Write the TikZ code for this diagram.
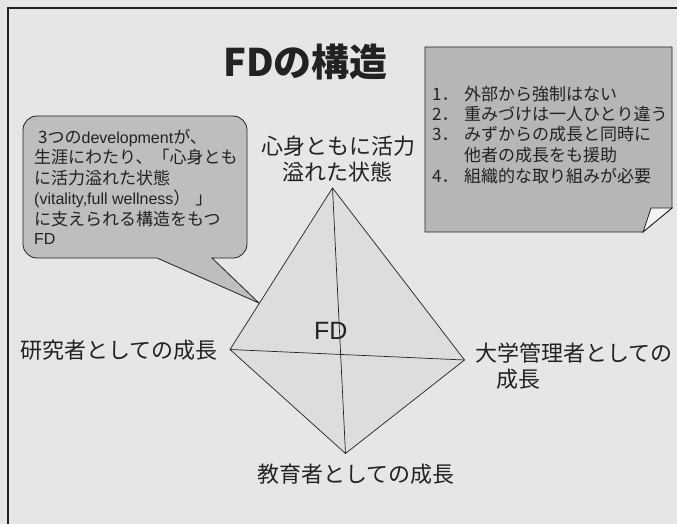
\documentclass[tikz,border=0pt]{standalone}
\usepackage{fontspec}
\setmainfont{Noto Sans CJK JP}
\newfontfamily\lat{Liberation Sans}
\definecolor{bgc}{RGB}{230,230,230}
\definecolor{ink}{RGB}{34,34,34}
\definecolor{callfill}{RGB}{190,190,192}
\definecolor{notefill}{RGB}{182,182,184}
\definecolor{tetfill}{RGB}{220,221,223}
\definecolor{flapfill}{RGB}{242,242,242}
\begin{document}
\begin{tikzpicture}[x=1pt,y=-1pt,
  txt/.style={inner sep=0pt, anchor=base west, text=ink},
  lab/.style={txt, font=\fontsize{22}{26}\selectfont},
  small/.style={txt, font=\fontsize{17}{20}\selectfont},
  shapeline/.style={draw=ink, line width=0.8pt},
  edge/.style={draw=ink, line width=0.7pt}]
\useasboundingbox (0,0) rectangle (677,524);
\clip (0,0) rectangle (677,524);
\fill[bgc] (0,0) rectangle (677,524);
\draw[ink, line width=2pt] (8,8) rectangle (720,570);

% title
\node[inner sep=0pt, anchor=base, text=ink, font=\fontsize{38}{44}\selectfont\bfseries] (title) at (305.5,77) {FDの構造};

% callout
\draw[shapeline, fill=callfill] (157,258) -- (259,303) -- (212,258) -- (233,258)
  arc[start angle=90, end angle=0, radius=14] -- (247,130)
  arc[start angle=0, end angle=-90, radius=14] -- (37,116)
  arc[start angle=-90, end angle=-180, radius=14] -- (23,244)
  arc[start angle=180, end angle=90, radius=14] -- cycle;
\node[small] (c1) at (38,143) {3つの{\lat\fontsize{16}{20}\selectfont development}が、};
\node[small] (c2) at (34,163.5) {生涯にわたり、「心身とも};
\node[small] (c3) at (34,184) {に活力溢れた状態};
\node[small] (c4) at (34,204.5) {{\lat\fontsize{16}{20}\selectfont (vitality,full wellness}）\hspace{5pt}」};
\node[small] (c5) at (34,225) {に支えられる構造をもつ};
\node[small] (c6) at (34,244) {{\lat\fontsize{16}{20}\selectfont FD}};

% note
\draw[shapeline, fill=notefill] (425,47) -- (672,47) -- (672,208) -- (643,232) -- (425,232) -- cycle;
\draw[shapeline, fill=flapfill] (672,208) -- (651,208) -- (643,232) -- cycle;
\node[small] (n1) at (432,100.5) {\makebox[32pt][l]{1．}外部から強制はない};
\node[small] (n2) at (432,120.5) {\makebox[32pt][l]{2．}重みづけは一人ひとり違う};
\node[small] (n3) at (432,140.5) {\makebox[32pt][l]{3．}みずからの成長と同時に};
\node[small] (n4) at (432,161) {\makebox[32pt][l]{}他者の成長をも援助};
\node[small] (n5) at (432,182) {\makebox[32pt][l]{4．}組織的な取り組みが必要};

% tetrahedron
\coordinate (T) at (332.5,188);
\coordinate (L) at (230,349.5);
\coordinate (R) at (464.5,360);
\coordinate (B) at (345.5,453.5);
\fill[tetfill] (T) -- (R) -- (B) -- (L) -- cycle;
\draw[edge, line join=miter] (T) -- (R) -- (B) -- (L) -- cycle;
\draw[edge] (T) -- (B);
\draw[edge] (L) -- (R);
\node[txt, font=\lat\fontsize{25}{30}\selectfont] (fd) at (314,339) {FD};

% labels
\node[lab] (top1) at (261,154.5) {心身ともに活力};
\node[lab] (top2) at (282,180.5) {溢れた状態};
\node[lab] (left) at (20,358) {研究者としての成長};
\node[lab] (right1) at (475,361.5) {大学管理者としての};
\node[lab] (right2) at (496,387.5) {成長};
\node[lab] (bottom) at (257,482.5) {教育者としての成長};
\end{tikzpicture}
\end{document}
